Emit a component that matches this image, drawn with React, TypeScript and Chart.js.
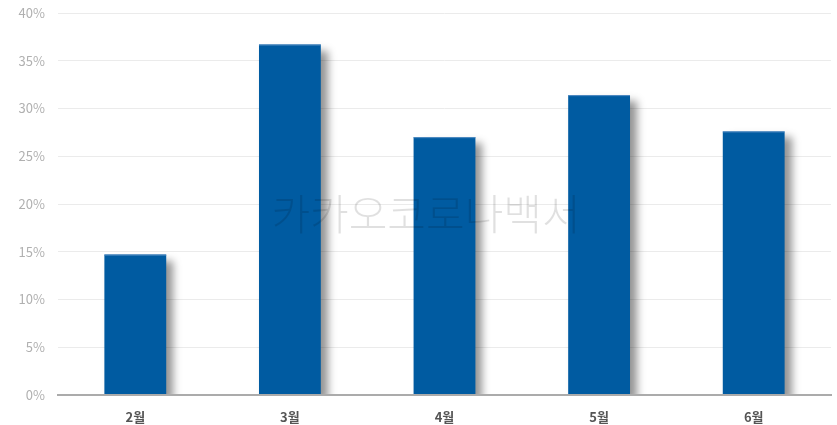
import React, { useEffect, useRef } from "react";
import { Chart, registerables } from "chart.js";

Chart.register(...registerables);

const months = ["2월", "3월", "4월", "5월", "6월"];
const rates = [14.7, 36.7, 27.0, 31.4, 27.6];
const yTicks = [0, 5, 10, 15, 20, 25, 30, 35, 40];
const watermark = "카카오코로나백서";

const FONT = "'Noto Sans CJK KR', 'Noto Sans', sans-serif";

// Soft drop shadow behind each bar, plus a thin light edge on the bar tops
const barShadow = {
  id: "barShadow",
  beforeDatasetsDraw(chart: any) {
    const { ctx, chartArea } = chart;
    ctx.save();
    ctx.beginPath();
    ctx.rect(chartArea.left, chartArea.top - 20, chartArea.right - chartArea.left + 20, chartArea.bottom - chartArea.top + 20 - 1);
    ctx.clip();
    ctx.shadowColor = "rgba(0,0,0,0.42)";
    ctx.shadowBlur = 8;
    ctx.shadowOffsetX = 7;
    ctx.shadowOffsetY = 6;
  },
  afterDatasetsDraw(chart: any) {
    const { ctx } = chart;
    ctx.restore();
    const meta = chart.getDatasetMeta(0);
    ctx.save();
    ctx.fillStyle = "#4f8ac2";
    meta.data.forEach((bar: any) => {
      const { x, y, width } = bar.getProps(["x", "y", "width"], true);
      ctx.fillRect(x - width / 2, y, width, 1);
    });
    ctx.restore();
  },
};

// Faint title stamped across the plot
const watermarkText = {
  id: "watermarkText",
  afterDraw(chart: any) {
    const { ctx } = chart;
    ctx.save();
    ctx.font = `300 42px ${FONT}`;
    ctx.fillStyle = "rgba(0,0,0,0.12)";
    ctx.textAlign = "center";
    ctx.textBaseline = "middle";
    ctx.fillText(watermark, 426, 214);
    ctx.restore();
  },
};

export default function App() {
  const canvasRef = useRef<HTMLCanvasElement | null>(null);

  useEffect(() => {
    if (!canvasRef.current) return;
    const chart = new Chart(canvasRef.current, {
      type: "bar",
      data: {
        labels: months,
        datasets: [
          {
            data: rates,
            backgroundColor: "#005ba1",
            borderWidth: 0,
            barPercentage: 0.4,
            categoryPercentage: 1,
          },
        ],
      },
      options: {
        animation: false,
        responsive: false,
        maintainAspectRatio: false,
        layout: { padding: { top: 0, right: 6, left: 0, bottom: 0 } },
        plugins: {
          legend: { display: false },
          tooltip: { enabled: false },
        },
        scales: {
          x: {
            grid: { display: false, drawTicks: false },
            border: { display: true, color: "#ababab", width: 2 },
            ticks: {
              color: "#555",
              font: { family: FONT, size: 13, weight: "bold" },
              padding: 14,
            },
            afterFit(scale: any) {
              scale.height = 30;
            },
          },
          y: {
            min: 0,
            max: 40,
            afterBuildTicks(scale: any) {
              scale.ticks = yTicks.map((v) => ({ value: v }));
            },
            grid: { color: "#ebebeb", lineWidth: 1, drawTicks: false },
            border: { display: false },
            ticks: {
              color: "#b0b0b0",
              font: { family: FONT, size: 13 },
              padding: 13,
              callback: (v: any) => `${v}%`,
            },
            afterFit(scale: any) {
              scale.width = 58;
              scale.paddingTop = 13;
              scale.paddingBottom = 0;
            },
          },
        },
      },
      plugins: [barShadow, watermarkText],
    });
    return () => chart.destroy();
  }, []);

  return (
    <div style={{ position: "absolute", left: 0, top: 0, width: 837, height: 425, background: "#fff" }}>
      <canvas ref={canvasRef} width={837} height={425} />
    </div>
  );
}
